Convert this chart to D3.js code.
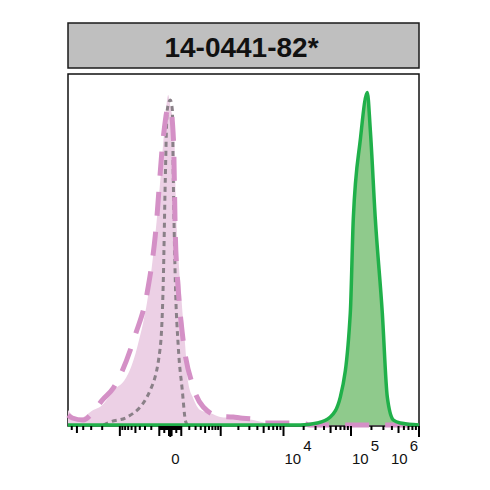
<!DOCTYPE html>
<html>
<head>
<meta charset="utf-8">
<script src="https://cdn.jsdelivr.net/npm/d3@7"></script>
<style>
  body { margin: 0; background: #fff; }
  svg { display: block; font-family: "Liberation Sans", Arial, sans-serif; }
</style>
</head>
<body>
<div id="chart"></div>
<script>
// histogram data: [fluorescence, % of max]
const pinkFill = [
  [-6840, 4.5], [-6318, 3.6], [-5000, 2.2], [-4440, 2.1], [-2782, 4.5], [-2149, 5.5],
  [-1112, 11.4], [-904, 12.6], [-456, 23.5], [-215, 43.6], [-89, 73.7], [-50, 88.7],
  [-16, 99.3], [0, 96], [32, 88.7], [41, 73.7], [89, 43.6], [147, 23.5], [186, 12.6],
  [261, 8], [390, 4.5], [637, 3.6], [983, 2.4], [1648, 2.1], [3459, 1.5], [6318, 0.3],
  [10000, 0], [1000000, 0]
];
const pinkDash = [
  [-6840, 3], [-5884, 2.1], [-4000, 1.5], [-2782, 4], [-1993, 7.5], [-1305, 11.1],
  [-503, 27.1], [-261, 40], [-147, 56.9], [-59, 86.6], [-16, 95.4], [0, 95.4],
  [25, 86], [41, 57.8], [69, 40.6], [111, 27.7], [261, 11.4], [456, 5.4], [983, 2.6],
  [1648, 2.4], [2149, 2.1], [3459, 1.8], [5000, 0.6], [10000, 0.6], [18000, 0.6],
  [25000, 0], [1000000, 0]
];
const greyDot = [
  [-1900, 0], [-1468, 0.9], [-729, 2.4], [-215, 10.5], [-89, 23.5], [-59, 43.6],
  [-41, 73.7], [-24, 94.8], [0, 97.8], [16, 94.8], [24, 73.7], [41, 43.6], [69, 23.5],
  [111, 10.5], [147, 1.5], [172, 0]
];
const green = [
  [-6840, 0], [17830, 0], [31860, 0.6], [49570, 2.4], [69620, 8.4], [97700, 33.7],
  [108100, 62], [137200, 85.8], [173800, 100], [192500, 88.7], [228000, 62],
  [288800, 33.7], [342000, 8.4], [419400, 1.5], [531000, 0.6], [1000000, 0]
];
const title = "14-0441-82*";
const tickLabels = [[0, "0", ""], [1e4, "10", "4"], [1e5, "10", "5"], [1e6, "10", "6"]];

const W = 490, H = 490;
const plotL = 68, plotR = 419, plotT = 74, base = 425;

const svg = d3.select("#chart").append("svg").attr("width", W).attr("height", H);

const x = d3.scaleSymlog().constant(222).domain([-6840, 1e6]).range([plotL, plotR]);
const y = d3.scaleLinear().domain([0, 105]).range([base, 76]);

// title box
svg.append("rect")
  .attr("x", plotL).attr("y", 23).attr("width", plotR - plotL).attr("height", 45)
  .attr("fill", "#bfbfbf").attr("stroke", "#1a1a1a").attr("stroke-width", 1.5);
svg.append("text")
  .attr("x", (plotL + plotR) / 2 - 2).attr("y", 57)
  .attr("text-anchor", "middle").attr("font-size", 28).attr("font-weight", "bold")
  .attr("fill", "#111").text(title);

// frame
svg.append("rect")
  .attr("x", plotL).attr("y", plotT).attr("width", plotR - plotL).attr("height", base - plotT + 1)
  .attr("fill", "none").attr("stroke", "#111").attr("stroke-width", 1.5);

const area = d3.area().x(d => x(d[0])).y0(y(0)).y1(d => y(d[1])).curve(d3.curveMonotoneX);
const line = d3.line().x(d => x(d[0])).y(d => y(d[1])).curve(d3.curveMonotoneX);

svg.append("path").datum(pinkFill).attr("d", area).attr("fill", "#ecd0e5");
svg.append("path").datum(green).attr("d", area).attr("fill", "#8fca8c");
svg.append("path").datum(greyDot).attr("d", line)
  .attr("fill", "none").attr("stroke", "#8a8088").attr("stroke-width", 3)
  .attr("stroke-dasharray", "5,4");
svg.append("path").datum(pinkDash).attr("d", line)
  .attr("fill", "none").attr("stroke", "#d490c6").attr("stroke-width", 5)
  .attr("stroke-dasharray", "24,16");
svg.append("path").datum(green).attr("d", line)
  .attr("fill", "none").attr("stroke", "#20b04a").attr("stroke-width", 3.5)
  .attr("stroke-linejoin", "round");

// ticks
const ticks = [[0, 11]];
[10, 100, 1000, 10000, 100000].forEach(dec => {
  for (let m = 1; m <= 9; m++) {
    const len = m === 1 ? 10 : (m === 5 ? 7 : 4);
    ticks.push([m * dec, len]);
    if (-m * dec >= -6840) ticks.push([-m * dec, len]);
  }
});
ticks.push([1e6, 11]);

svg.append("g").selectAll("line").data(ticks).join("line")
  .attr("x1", d => x(d[0])).attr("x2", d => x(d[0]))
  .attr("y1", base + 1).attr("y2", d => base + 1 + d[1])
  .attr("stroke", "#000").attr("stroke-width", 2);

const lab = svg.append("g").selectAll("text").data(tickLabels).join("text")
  .attr("font-size", 15).attr("fill", "#111")
  .attr("x", d => d[0] >= 1e6 ? plotR - 1 : x(d[0]) + 1)
  .attr("y", 464)
  .attr("text-anchor", d => d[0] >= 1e6 ? "end" : "start");
lab.append("tspan").text(d => d[1]);
lab.append("tspan").attr("dx", 2).attr("dy", -13).text(d => d[2]);
</script>
</body>
</html>
